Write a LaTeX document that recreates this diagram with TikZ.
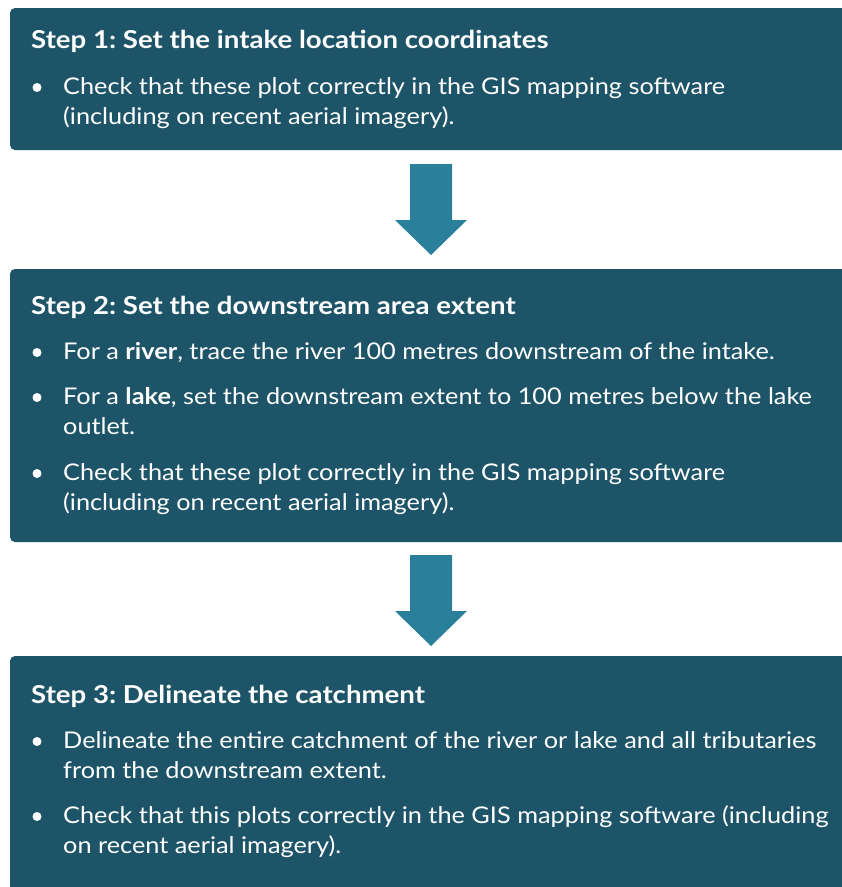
\documentclass[tikz,border=0pt]{standalone}
\usepackage{fontspec}
\setmainfont{Lato}
\newfontfamily\bodyfont{Lato}[FakeStretch=1.1]
\newfontfamily\titlefont{Lato}[FakeStretch=1.12]
\usetikzlibrary{calc}
\definecolor{boxblue}{HTML}{1D5468}
\definecolor{arrowblue}{HTML}{2A7F9B}
\tikzset{
  stepbox/.style={fill=boxblue, rounded corners=5pt},
  titletext/.style={anchor=base west, inner sep=0pt, text=white, font=\titlefont\fontsize{24.65}{28}\selectfont\bfseries\frenchspacing},
  bodytext/.style={anchor=base west, inner sep=0pt, text=white, font=\bodyfont\fontsize{23}{27}\selectfont\frenchspacing},
  bulletdot/.style={circle, fill=white, inner sep=0pt, minimum size=9pt},
  blockarrow/.style={fill=arrowblue}
}
\newcommand{\bulletat}[2]{\node[bulletdot] (#1) at (37,#2-6.5) {};}
\begin{document}
\begin{tikzpicture}[x=1pt,y=-1pt]
\useasboundingbox (0,0) rectangle (842,887);
\begin{scope}
\clip (0,0) rectangle (842,887);
% boxes
\path[stepbox] (10,8) rectangle (852,150);
\path[stepbox] (10,269) rectangle (852,542);
\path[stepbox] (10,656) rectangle (852,897);
\end{scope}
\coordinate (b1) at (431,150);
\coordinate (b2t) at (431,269);
\coordinate (b2) at (431,542);
\coordinate (b3t) at (431,656);
% arrows
\fill[blockarrow] ($(b1)+(-21,14)$) -- ($(b1)+(21,14)$) -- ($(b1)+(21,70)$) -- ($(b1)+(36,70)$) -- ($(b2t)+(0,-14)$) -- ($(b1)+(-36,70)$) -- ($(b1)+(-21,70)$) -- cycle;
\fill[blockarrow] ($(b2)+(-21,13)$) -- ($(b2)+(21,13)$) -- ($(b2)+(21,69)$) -- ($(b2)+(36,69)$) -- ($(b3t)+(0,-10)$) -- ($(b2)+(-36,69)$) -- ($(b2)+(-21,69)$) -- cycle;
% box 1
\node[titletext] (t1) at (31,48) {Step 1: Set the intake location coordinates};
\bulletat{d11}{94}
\node[bodytext] (l11) at (63,94) {Check that these plot correctly in the GIS mapping software};
\node[bodytext] (l12) at (63,124) {(including on recent aerial imagery).};
% box 2
\node[titletext] (t2) at (31,314) {Step 2: Set the downstream area extent};
\bulletat{d21}{359}
\node[bodytext] (l21) at (63,359) {For a \textbf{river}, trace the river 100 metres downstream of the intake.};
\bulletat{d22}{404}
\node[bodytext] (l22) at (63,404) {For a \textbf{lake}, set the downstream extent to 100 metres below the lake};
\node[bodytext] (l23) at (63,434) {outlet.};
\bulletat{d23}{480}
\node[bodytext] (l24) at (63,480) {Check that these plot correctly in the GIS mapping software};
\node[bodytext] (l25) at (63,510) {(including on recent aerial imagery).};
% box 3
\node[titletext] (t3) at (31,703) {Step 3: Delineate the catchment};
\bulletat{d31}{748}
\node[bodytext] (l31) at (63,748) {Delineate the entire catchment of the river or lake and all tributaries};
\node[bodytext] (l32) at (63,778) {from the downstream extent.};
\bulletat{d32}{823}
\node[bodytext] (l33) at (63,823) {Check that this plots correctly in the GIS mapping software (including};
\node[bodytext] (l34) at (63,853) {on recent aerial imagery).};
\end{tikzpicture}
\end{document}
